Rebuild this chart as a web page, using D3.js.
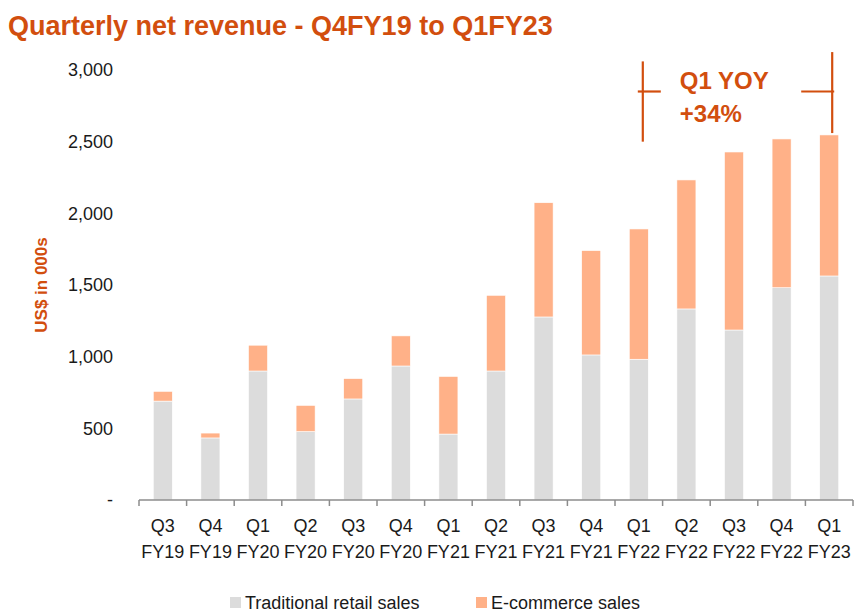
<!DOCTYPE html>
<html lang="en">
<head>
  <meta charset="UTF-8">
  <title>Quarterly net revenue</title>
  <script src="https://d3js.org/d3.v7.min.js"></script>
  <style>
    body {
      margin: 0;
      padding: 0;
      background: #fff;
      font-family: 'Liberation Sans', Arial, sans-serif;
    }
    .tick-label { font-size: 18px; fill: #1a1a1a; }
    .legend text { font-size: 18px; fill: #1a1a1a; }
  </style>
</head>
<body>
  <div id="chart"></div>
  <script>
    // quarters (two-line tick labels)
    const quarters = ["Q3", "Q4", "Q1", "Q2", "Q3", "Q4", "Q1", "Q2", "Q3", "Q4", "Q1", "Q2", "Q3", "Q4", "Q1"];
    const fiscalYears = ["FY19", "FY19", "FY20", "FY20", "FY20", "FY20", "FY21", "FY21", "FY21", "FY21", "FY22", "FY22", "FY22", "FY22", "FY23"];

    // US$ in 000s
    const retail = [690, 433, 900, 477, 705, 935, 460, 900, 1277, 1012, 982, 1333, 1186, 1481, 1563];
    const ecommerce = [68, 34, 180, 183, 142, 210, 402, 528, 797, 728, 909, 900, 1242, 1038, 984];

    const yTicks = [0, 500, 1000, 1500, 2000, 2500, 3000];
    const seriesNames = ["Traditional retail sales", "E-commerce sales"];
    const seriesColors = ["#dcdcdc", "#ffb188"];
    const accent = "#d24e0e";
    const yoyLabel = ["Q1 YOY", "+34%"];

    const width = 855, height = 613;
    const margin = { top: 70, right: 2, bottom: 113, left: 139 };

    const svg = d3.select("#chart")
      .append("svg")
      .attr("width", width)
      .attr("height", height);

    const labels = quarters.map((q, i) => q + " " + fiscalYears[i]);
    const data = labels.map((label, i) => ({ label, retail: retail[i], ecommerce: ecommerce[i] }));

    const x = d3.scaleBand()
      .domain(labels)
      .range([margin.left, width - margin.right])
      .paddingInner(0.6)
      .paddingOuter(0.3);

    const y = d3.scaleLinear()
      .domain([0, 3000])
      .range([height - margin.bottom, margin.top]);

    const stack = d3.stack().keys(["retail", "ecommerce"]);
    const series = stack(data);

    // title
    svg.append("text")
      .attr("x", 8)
      .attr("y", 35)
      .attr("font-size", 27)
      .attr("font-weight", "bold")
      .attr("fill", accent)
      .text("Quarterly net revenue - Q4FY19 to Q1FY23");

    // y axis labels (no line)
    svg.append("g")
      .selectAll("text")
      .data(yTicks)
      .join("text")
      .attr("class", "tick-label")
      .attr("x", 113)
      .attr("y", d => y(d))
      .attr("dy", "0.35em")
      .attr("text-anchor", "end")
      .text(d => d === 0 ? "-" : d3.format(",")(d));

    svg.append("text")
      .attr("transform", `translate(47,${y(1500)}) rotate(-90)`)
      .attr("text-anchor", "middle")
      .attr("font-size", 17)
      .attr("font-weight", "bold")
      .attr("fill", accent)
      .text("US$ in 000s");

    // stacked bars
    svg.append("g")
      .selectAll("g")
      .data(series)
      .join("g")
      .attr("fill", (d, i) => seriesColors[i])
      .selectAll("rect")
      .data(d => d)
      .join("rect")
      .attr("x", d => x(d.data.label))
      .attr("y", d => y(d[1]))
      .attr("width", x.bandwidth())
      .attr("height", d => y(d[0]) - y(d[1]))
      .attr("stroke", "#fff")
      .attr("stroke-width", 0.6);

    // x axis line with ticks between categories
    const step = x.step();
    const x0 = margin.left;
    const base = y(0);
    const axis = svg.append("g").attr("stroke", "#8c8c8c").attr("stroke-width", 1.5);
    axis.append("line")
      .attr("x1", x0).attr("x2", x0 + step * labels.length)
      .attr("y1", base).attr("y2", base);
    axis.selectAll(".tk")
      .data(d3.range(labels.length + 1))
      .join("line")
      .attr("class", "tk")
      .attr("x1", i => x0 + i * step).attr("x2", i => x0 + i * step)
      .attr("y1", base).attr("y2", base + 6);

    // category labels
    const xl = svg.append("g")
      .selectAll("text")
      .data(data)
      .join("text")
      .attr("class", "tick-label")
      .attr("text-anchor", "middle")
      .attr("x", d => x(d.label) + x.bandwidth() / 2);
    xl.append("tspan").attr("y", base + 32).attr("x", d => x(d.label) + x.bandwidth() / 2).text((d, i) => quarters[i]);
    xl.append("tspan").attr("y", base + 58).attr("x", d => x(d.label) + x.bandwidth() / 2).text((d, i) => fiscalYears[i]);

    // YoY annotation between Q1 FY22 and Q1 FY23
    const from = labels[10], to = labels[14];
    const lx = x(from) + x.bandwidth() / 2 + 4;
    const rx = x(to) + x.bandwidth() / 2 + 3;
    const ann = svg.append("g").attr("stroke", accent).attr("stroke-width", 2.2);
    ann.append("line").attr("x1", lx).attr("x2", lx).attr("y1", y(3060)).attr("y2", y(2500));
    ann.append("line").attr("x1", lx - 5).attr("x2", lx + 18).attr("y1", y(2850)).attr("y2", y(2850));
    ann.append("line").attr("x1", rx).attr("x2", rx).attr("y1", y(3125)).attr("y2", y(2560));
    ann.append("line").attr("x1", rx - 31).attr("x2", rx + 2).attr("y1", y(2850)).attr("y2", y(2850));

    yoyLabel.forEach((t, i) => {
      svg.append("text")
        .attr("x", lx + 37).attr("y", y(2850) - 3 + i * 33)
        .attr("font-size", 24).attr("font-weight", "bold").attr("fill", accent)
        .text(t);
    });

    // legend
    const legend = svg.append("g").attr("class", "legend");
    const legendX = [230, 476];
    seriesNames.forEach((name, i) => {
      legend.append("rect")
        .attr("x", legendX[i]).attr("y", 597)
        .attr("width", 11).attr("height", 11)
        .attr("fill", seriesColors[i]);
      legend.append("text")
        .attr("x", legendX[i] + 15).attr("y", 609)
        .text(name);
    });
  </script>
</body>
</html>
